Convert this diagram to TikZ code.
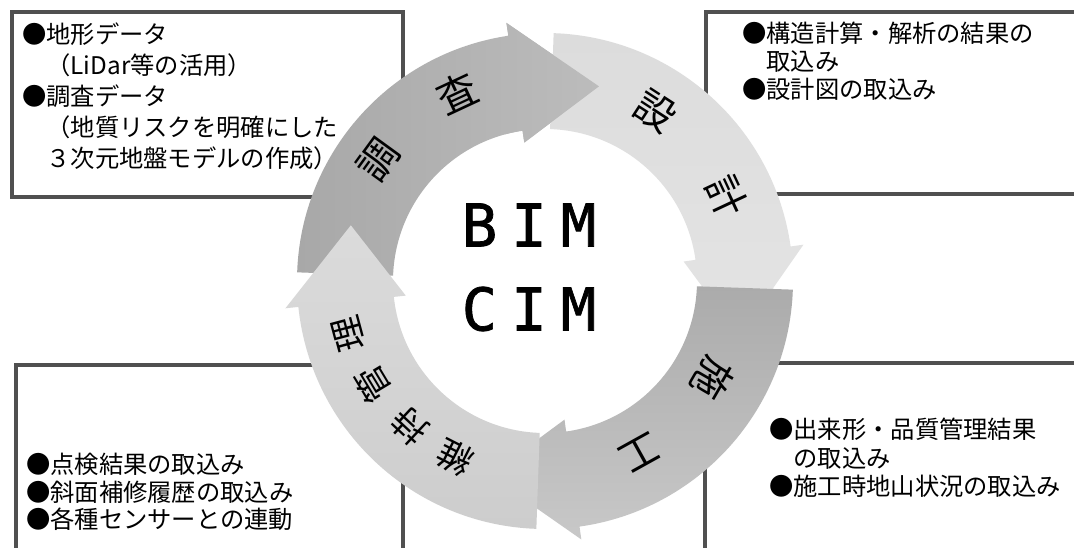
\documentclass[tikz,border=0pt]{standalone}
\usepackage{fontspec}
\newfontfamily\jpfont{Noto Sans CJK JP}
\newfontfamily\bimfont[FakeBold=1.2]{DejaVu Sans Mono}
\definecolor{boxline}{HTML}{505050}
\definecolor{chouA}{HTML}{A8A8A8}
\definecolor{chouB}{HTML}{BCBCBC}
\definecolor{sekkeiA}{HTML}{DCDCDC}
\definecolor{sekkeiB}{HTML}{E4E4E4}
\definecolor{sekoA}{HTML}{ABABAB}
\definecolor{sekoB}{HTML}{C8C8C8}
\definecolor{ijiA}{HTML}{CDCDCD}
\definecolor{ijiB}{HTML}{DBDBDB}
\newcommand\RingOut{248}
\newcommand\RingIn{152}
\newcommand\HeadOut{261}
\newcommand\HeadIn{140}
\newcommand\TipRad{202}
\newcommand\RingArrowPath[3]{(#1:\RingOut) arc[start angle=#1,end angle=#2,radius=\RingOut] -- (#2:\HeadOut) -- (#3:\TipRad) -- (#2:\HeadIn) -- (#2:\RingIn) arc[start angle=#2,end angle=#1,radius=\RingIn] -- cycle}
\tikzset{
  infobox/.style={draw=boxline, line width=4pt, fill=white},
  infotext/.style={align=left, anchor=west, inner sep=0pt},
  ringchar/.style={font=\jpfont\fontsize{40}{40}\selectfont, inner sep=0pt},
  ringcharsmall/.style={font=\jpfont\fontsize{35}{35}\selectfont, inner sep=0pt},
  bimtext/.style={font=\bimfont\fontsize{59}{59}\selectfont, inner sep=0pt},
  chousafill/.style={left color=chouA, right color=chouB},
  sekkeifill/.style={top color=sekkeiA, bottom color=sekkeiB},
  sekofill/.style={top color=sekoA, bottom color=sekoB},
  ijifill/.style={bottom color=ijiA, top color=ijiB},
}
\begin{document}
\begin{tikzpicture}[x=1pt,y=1pt]
  \clip (0,0) rectangle (1074,-548);
  \fill[white] (0,0) rectangle (1074,-548);
  % boxes
  \draw[infobox] (12,-12) rectangle (403,-197);
  \draw[infobox] (706,-12) rectangle (1090,-194);
  \draw[infobox] (16,-365) rectangle (403,-570);
  \draw[infobox] (705,-363) rectangle (1090,-570);
  % box texts
  \node[infotext, font=\jpfont\fontsize{24.3}{31}\selectfont] (tltext) at (22,-96)
    {●地形データ\\　（LiDar等の活用）\\●調査データ\\　（地質リスクを明確にした\\　３次元地盤モデルの作成）};
  \node[infotext, font=\jpfont\fontsize{24.3}{28}\selectfont] (trtext) at (742,-61)
    {●構造計算・解析の結果の\\　取込み\\●設計図の取込み};
  \node[infotext, font=\jpfont\fontsize{24.3}{27.5}\selectfont] (bltext) at (26,-492)
    {●点検結果の取込み\\●斜面補修履歴の取込み\\●各種センサーとの連動};
  \node[infotext, font=\jpfont\fontsize{24.3}{28.5}\selectfont] (brtext) at (769,-458)
    {●出来形・品質管理結果\\　の取込み\\●施工時地山状況の取込み};
  % ring
  \begin{scope}[shift={(545,-281)}]
    \path[chousafill] \RingArrowPath{178}{98.5}{74.5};
    \path[sekkeifill] \RingArrowPath{88}{8}{-16};
    \path[sekofill] \RingArrowPath{-2}{-82}{-106};
    \path[ijifill] \RingArrowPath{268}{186}{164};
    \begin{scope}
      \clip (-40,100) rectangle (80,290);
      \path[chousafill] \RingArrowPath{178}{98.5}{74.5};
    \end{scope}
    \node[ringchar, rotate=54] (c1) at (144:206) {調};
    \node[ringchar, rotate=25] (c2) at (115:208) {査};
    \node[ringchar, rotate=-33] (s1) at (57:203) {設};
    \node[ringchar, rotate=-65] (s2) at (25:200) {計};
    \node[ringchar, rotate=-120] (k1) at (-30:194) {施};
    \node[ringchar, rotate=-151] (k2) at (-61:196) {工};
    \node[ringcharsmall, rotate=153] (m1) at (243:198) {維};
    \node[ringcharsmall, rotate=137] (m2) at (227:198) {持};
    \node[ringcharsmall, rotate=121] (m3) at (211:201) {管};
    \node[ringcharsmall, rotate=105] (m4) at (195:204) {理};
  \end{scope}
  \node[bimtext] (bim) at (529,-225) {B\kern14pt I\kern14pt M};
  \node[bimtext] (cim) at (529,-309) {C\kern14pt I\kern14pt M};
\end{tikzpicture}
\end{document}
